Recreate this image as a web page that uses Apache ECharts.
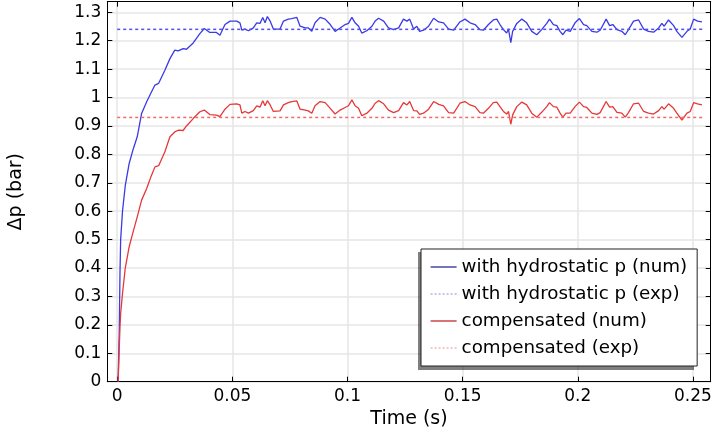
<!DOCTYPE html>
<html>
<head>
<meta charset="utf-8">
<script src="https://cdn.jsdelivr.net/npm/echarts@6/dist/echarts.min.js"></script>
<style>
  html, body { margin: 0; padding: 0; background: #fff; }
  #chart { width: 713px; height: 433px; }
</style>
</head>
<body>
<div id="chart"></div>
<script>
  // time (s) of the simulated curves
  var timeNum = [
    0.0004, 0.0009, 0.0012, 0.0015, 0.0023, 0.0035, 0.0052, 0.0070, 0.0087, 0.0106,
    0.0128, 0.0146, 0.0164, 0.0180, 0.0207, 0.0229, 0.0250, 0.0265, 0.0286, 0.0301,
    0.0330, 0.0359, 0.0378, 0.0402, 0.0431, 0.0446,
    0.0468, 0.0490, 0.0519, 0.0533, 0.0541, 0.0555, 0.0570, 0.0591, 0.0606, 0.0620,
    0.0632, 0.0642, 0.0652, 0.0664, 0.0678, 0.0707, 0.0722, 0.0743, 0.0758, 0.0780,
    0.0794, 0.0816, 0.0830, 0.0845, 0.0859, 0.0881, 0.0903, 0.0925, 0.0946, 0.0968,
    0.0990, 0.1004, 0.1019, 0.1033, 0.1048, 0.1062, 0.1084, 0.1106, 0.1120, 0.1135,
    0.1157, 0.1178, 0.1200, 0.1222, 0.1243, 0.1258, 0.1270, 0.1287, 0.1301, 0.1313,
    0.1330, 0.1352, 0.1374, 0.1396, 0.1417, 0.1439, 0.1461,
    0.1488, 0.1510, 0.1532, 0.1554, 0.1575, 0.1590, 0.1612, 0.1633, 0.1648, 0.1662,
    0.1677, 0.1691, 0.1699, 0.1709, 0.1717, 0.1735, 0.1757, 0.1778, 0.1800, 0.1822,
    0.1843, 0.1865, 0.1877, 0.1894, 0.1909, 0.1923, 0.1935, 0.1949, 0.1967, 0.1988,
    0.2007, 0.2025, 0.2039, 0.2061, 0.2083, 0.2097, 0.2123, 0.2138, 0.2152, 0.2170,
    0.2191, 0.2206, 0.2220, 0.2242, 0.2264, 0.2286, 0.2307, 0.2329, 0.2351, 0.2365,
    0.2375, 0.2394, 0.2416, 0.2430, 0.2452, 0.2474, 0.2488, 0.2503, 0.2520, 0.2539
  ];
  var hydroNum = [
    0, 0.18, 0.38, 0.50, 0.60, 0.69, 0.768, 0.82, 0.862, 0.944,
    0.985, 1.015, 1.044, 1.050, 1.096, 1.137, 1.167, 1.164, 1.172, 1.170,
    1.192, 1.225, 1.243, 1.229, 1.229, 1.219,
    1.257, 1.269, 1.269, 1.263, 1.237, 1.241, 1.235, 1.245, 1.263, 1.261,
    1.282, 1.263, 1.285, 1.269, 1.241, 1.241, 1.269, 1.276, 1.278, 1.282,
    1.251, 1.245, 1.245, 1.233, 1.263, 1.282, 1.276, 1.257, 1.233, 1.245,
    1.257, 1.261, 1.282, 1.263, 1.251, 1.227, 1.235, 1.251, 1.269, 1.279,
    1.269, 1.245, 1.239, 1.245, 1.276, 1.269, 1.276, 1.241, 1.251, 1.233,
    1.237, 1.251, 1.279, 1.266, 1.263, 1.241, 1.237,
    1.266, 1.276, 1.263, 1.257, 1.239, 1.237, 1.257, 1.273, 1.276, 1.257,
    1.239, 1.227, 1.241, 1.193, 1.233, 1.261, 1.276, 1.263, 1.233, 1.221,
    1.239, 1.261, 1.276, 1.257, 1.253, 1.233, 1.221, 1.237, 1.233, 1.263,
    1.278, 1.257, 1.253, 1.233, 1.230, 1.237, 1.276, 1.253, 1.257, 1.239,
    1.233, 1.221, 1.239, 1.269, 1.273, 1.241, 1.233, 1.230, 1.245, 1.261,
    1.251, 1.273, 1.253, 1.233, 1.212, 1.233, 1.241, 1.276, 1.269, 1.266
  ];
  var compNum = [
    0, 0.12, 0.19, 0.24, 0.31, 0.40, 0.475, 0.53, 0.580, 0.639,
    0.680, 0.72, 0.756, 0.760, 0.809, 0.862, 0.879, 0.885, 0.884, 0.900,
    0.926, 0.950, 0.956, 0.940, 0.938, 0.933,
    0.959, 0.976, 0.978, 0.974, 0.945, 0.951, 0.945, 0.954, 0.971, 0.966,
    0.989, 0.971, 0.989, 0.974, 0.951, 0.953, 0.974, 0.982, 0.986, 0.988,
    0.959, 0.956, 0.953, 0.945, 0.971, 0.986, 0.982, 0.962, 0.942, 0.956,
    0.965, 0.971, 0.992, 0.971, 0.962, 0.936, 0.945, 0.962, 0.980, 0.989,
    0.978, 0.956, 0.947, 0.954, 0.982, 0.974, 0.986, 0.954, 0.953, 0.941,
    0.945, 0.959, 0.986, 0.976, 0.971, 0.947, 0.945,
    0.980, 0.986, 0.974, 0.968, 0.947, 0.945, 0.962, 0.982, 0.984, 0.968,
    0.951, 0.942, 0.951, 0.906, 0.939, 0.968, 0.984, 0.974, 0.945, 0.931,
    0.948, 0.968, 0.982, 0.968, 0.966, 0.945, 0.931, 0.945, 0.945, 0.968,
    0.984, 0.968, 0.965, 0.945, 0.941, 0.947, 0.986, 0.966, 0.968, 0.948,
    0.945, 0.931, 0.947, 0.978, 0.980, 0.951, 0.945, 0.942, 0.954, 0.968,
    0.959, 0.978, 0.962, 0.945, 0.921, 0.945, 0.951, 0.982, 0.978, 0.974
  ];
  // measured values (horizontal reference lines)
  var timeExp = [0, 0.254];
  var hydroExp = [1.24, 1.24];
  var compExp = [0.93, 0.93];

  var names = ['with hydrostatic p (num)', 'with hydrostatic p (exp)', 'compensated (num)', 'compensated (exp)'];
  var xTicks = [0, 0.05, 0.1, 0.15, 0.2, 0.25];
  var yTicks = [0, 0.1, 0.2, 0.3, 0.4, 0.5, 0.6, 0.7, 0.8, 0.9, 1, 1.1, 1.2, 1.3];

  var font = 'DejaVu Sans';

  function pairs(xs, ys) {
    return xs.map(function (x, i) { return [x, ys[i]]; });
  }

  function frameAxis(pos, ticks, extra) {
    var a = {
      type: 'value',
      position: pos,
      axisLine: {show: true, onZero: false, lineStyle: {color: '#000', width: 1}},
      axisTick: {show: true, inside: true, length: 5, customValues: ticks, lineStyle: {color: '#000'}},
      axisLabel: {show: false},
      splitLine: {show: false}
    };
    return Object.assign(a, extra);
  }

  var xMin = -0.0043, xMax = 0.2577, yMin = 0, yMax = 1.3373;

  var option = {
    animation: false,
    backgroundColor: '#fff',
    grid: {left: 107.3, right: 2.3, top: 1.7, bottom: 51.3, outerBoundsMode: 'none'},
    // drop shadow of the legend box (down-left)
    graphic: [{
      type: 'rect', z: 3, silent: true,
      shape: {x: 418, y: 252, width: 276, height: 118},
      style: {fill: 'rgba(0,0,0,0.5)'}
    }],
    legend: {
      orient: 'vertical',
      left: 421,
      top: 249,
      padding: [9, 10, 9, 9],
      itemGap: 9,
      itemWidth: 26,
      itemHeight: 10,
      backgroundColor: '#fff',
      borderColor: '#222',
      borderWidth: 1,
      textStyle: {fontSize: 18.3, color: '#000', fontFamily: font},
      data: [
        {name: names[0], itemStyle: {opacity: 0}, lineStyle: {color: '#1a1a90', width: 1.2}},
        {name: names[1], itemStyle: {opacity: 0}, lineStyle: {color: '#a0a0e0', width: 1.2, type: [2, 2]}},
        {name: names[2], itemStyle: {opacity: 0}, lineStyle: {color: '#c01818', width: 1.2}},
        {name: names[3], itemStyle: {opacity: 0}, lineStyle: {color: '#eaa4a4', width: 1.2, type: [2, 2]}}
      ]
    },
    xAxis: [
      frameAxis('bottom', xTicks, {
        min: xMin, max: xMax,
        name: 'Time (s)',
        nameLocation: 'middle',
        nameGap: 28,
        nameTextStyle: {fontSize: 19, color: '#000', fontFamily: font},
        axisLabel: {show: true, customValues: xTicks, fontSize: 17, color: '#000', fontFamily: font, margin: 6},
        splitLine: {show: true, lineStyle: {color: '#e6e6e6', width: 1.5}}
      }),
      frameAxis('top', xTicks, {min: xMin, max: xMax})
    ],
    yAxis: [
      frameAxis('left', yTicks, {
        min: yMin, max: yMax,
        name: 'Δp (bar)',
        nameLocation: 'middle',
        nameGap: 82,
        nameTextStyle: {fontSize: 19, color: '#000', fontFamily: font},
        axisLabel: {show: true, customValues: yTicks, fontSize: 17, color: '#000', fontFamily: font, margin: 6},
        splitLine: {show: true, lineStyle: {color: '#e6e6e6', width: 1.5}}
      }),
      frameAxis('right', yTicks, {min: yMin, max: yMax})
    ],
    series: [
      {
        name: names[0], type: 'line', symbol: 'none',
        data: pairs(timeNum, hydroNum),
        lineStyle: {color: '#3a3ae8', width: 1.3},
        itemStyle: {color: '#3a3ae8'}
      },
      {
        name: names[1], type: 'line', symbol: 'none',
        data: pairs(timeExp, hydroExp),
        lineStyle: {color: '#5050ee', width: 1.5, type: [3, 3]},
        itemStyle: {color: '#5050ee'}
      },
      {
        name: names[2], type: 'line', symbol: 'none',
        data: pairs(timeNum, compNum),
        lineStyle: {color: '#e63838', width: 1.3},
        itemStyle: {color: '#e63838'}
      },
      {
        name: names[3], type: 'line', symbol: 'none',
        data: pairs(timeExp, compExp),
        lineStyle: {color: '#f06a6a', width: 1.5, type: [3, 3]},
        itemStyle: {color: '#f06a6a'}
      }
    ]
  };

  var chart = echarts.init(document.getElementById('chart'));
  chart.setOption(option);
</script>
</body>
</html>
